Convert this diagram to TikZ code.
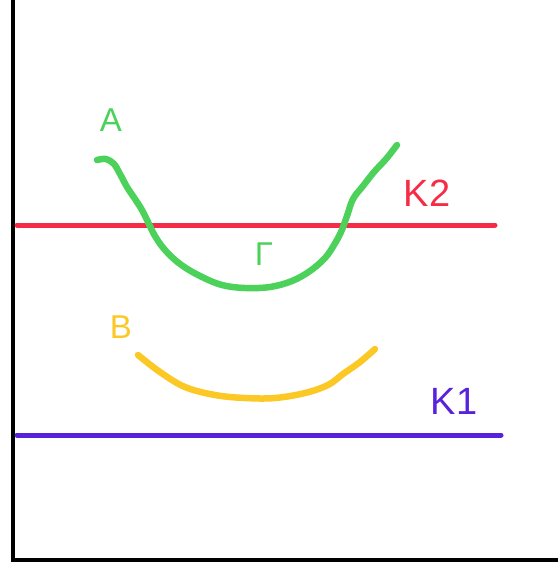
\documentclass[tikz,border=0pt]{standalone}
\usepackage{fontspec}
\setmainfont{Liberation Sans}
\usepackage{xcolor}
\usetikzlibrary{positioning}

\definecolor{curvegreen}{RGB}{76,210,90}
\definecolor{linered}{RGB}{246,44,70}
\definecolor{curveyellow}{RGB}{252,200,38}
\definecolor{linepurple}{RGB}{88,34,218}

\begin{document}
\begin{tikzpicture}[
    x=1pt, y=-1pt,
    axis/.style={line width=4pt, black},
    level/.style={line width=5pt, line cap=round},
    trace/.style={line width=6.5pt, line cap=round, line join=round},
    lbl/.style={inner sep=0pt, font=\fontsize{33}{36}\selectfont},
    biglbl/.style={inner sep=0pt, font=\fontsize{38}{42}\selectfont}
]
\useasboundingbox (0,0) rectangle (558,563);

% axes
\draw[axis] (13,0) -- (13,560) -- (558,560);

% horizontal levels
\draw[level, linered] (17,225) -- (495,225);
\draw[level, linepurple] (17,435) -- (501,435);

% green curve
\draw[trace, curvegreen] plot[smooth, tension=0.6] coordinates {
  (97,160) (106,159) (114,164) (120,174) (127,187) (135,199)
  (142,210) (148,222) (155,236) (165,250) (180,264) (200,276)
  (222,285) (245,288) (270,287) (292,281) (310,271) (325,258)
  (334,245) (341,232) (347,216) (353,199) (363,186) (374,172)
  (386,159) (397,145)};

% yellow curve
\draw[trace, curveyellow] plot[smooth, tension=0.6] coordinates {
  (138,355) (160,372) (185,387) (215,395) (245,398) (275,398)
  (305,393) (328,385) (343,374) (360,362) (375,349)};

% labels
\node[lbl, text=curvegreen] (labA) at (111,120) {A};
\node[lbl, text=curvegreen] (labG) at (264,254) {Γ};
\node[lbl, text=curveyellow] (labB) at (121,327) {B};
\node[biglbl, text=linered] (labK2) at (427,193) {K2};
\node[biglbl, text=linepurple] (labK1) at (454,401) {K1};

\end{tikzpicture}
\end{document}
